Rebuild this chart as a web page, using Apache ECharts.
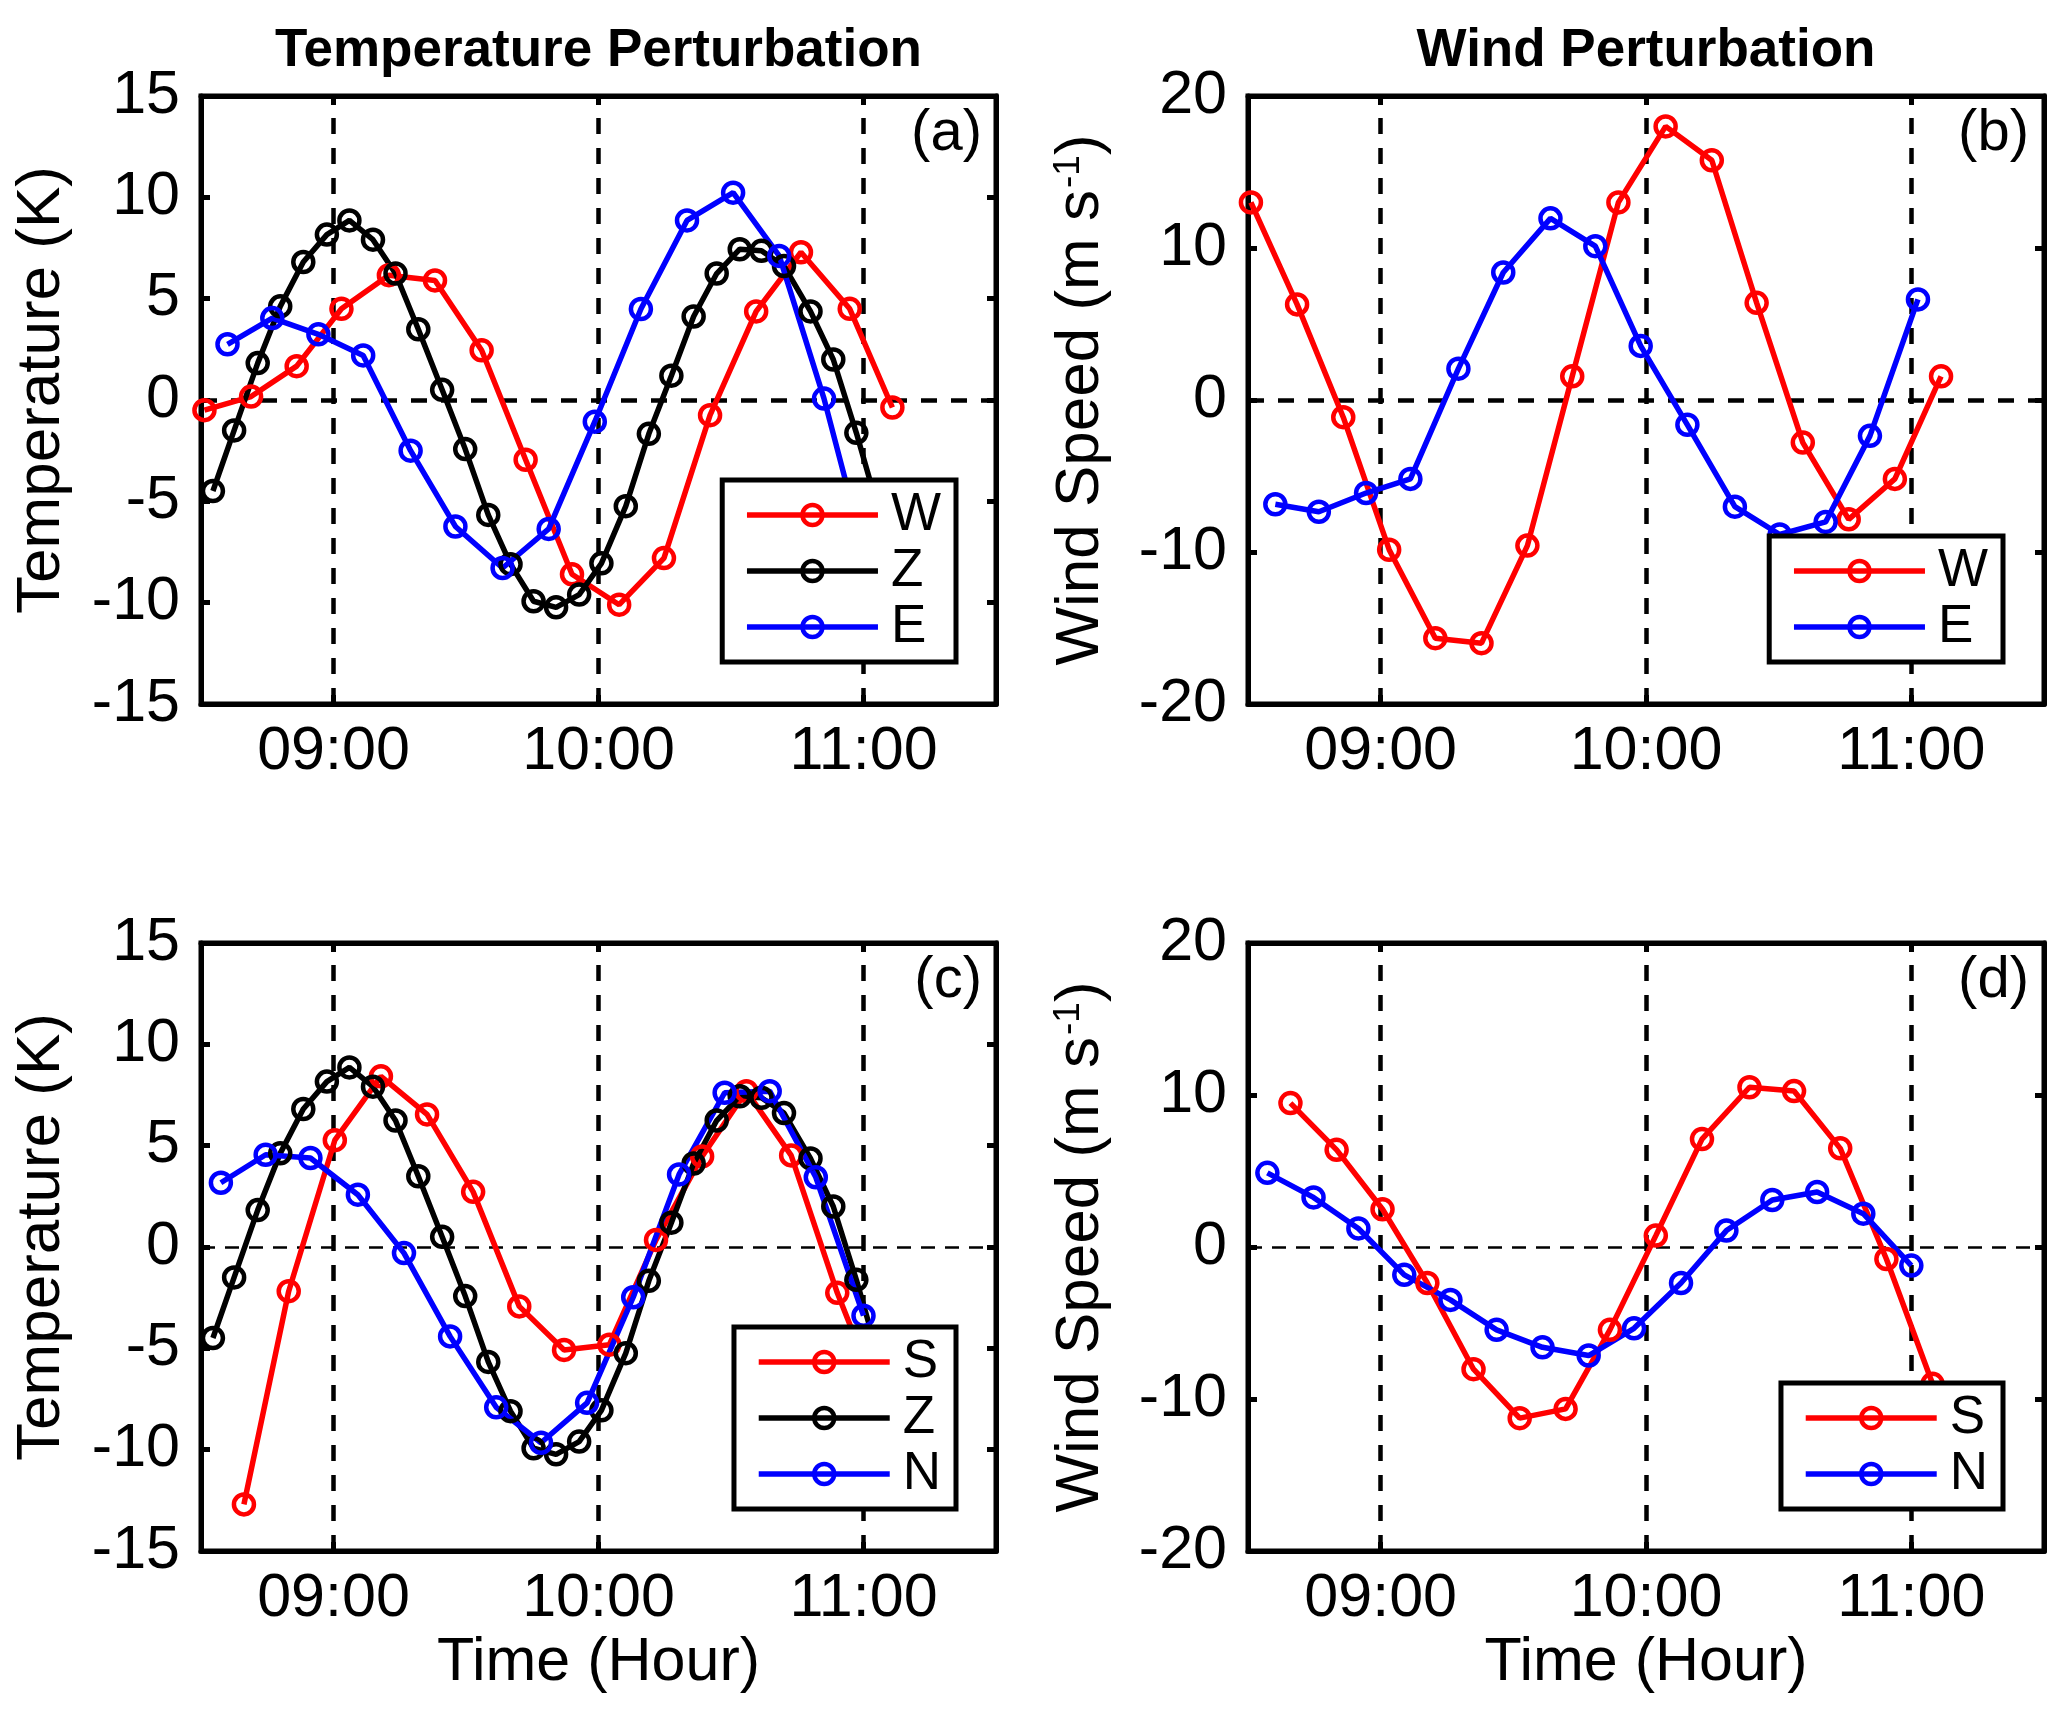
<!DOCTYPE html>
<html>
<head>
<meta charset="utf-8">
<script src="https://cdn.jsdelivr.net/npm/echarts@6/dist/echarts.min.js"></script>
<style>
html,body{margin:0;padding:0;background:#fff;}
#chart{width:2067px;height:1718px;}
</style>
</head>
<body>
<div id="chart"></div>
<script>
// ---------- tick labels ----------
const xTickValues = [9, 10, 11];
const xTickLabels = ['09:00', '10:00', '11:00'];

// ---------- panel (a) temperature: W, Z, E ----------
const aW_t = [8.513, 8.689, 8.861, 9.030, 9.209, 9.383, 9.559, 9.725, 9.900, 10.078, 10.247, 10.421, 10.595, 10.764, 10.948, 11.109];
const aW_v = [-0.5, 0.17, 1.67, 4.5, 6.16, 5.9, 2.45, -2.95, -8.6, -10.1, -7.8, -0.75, 4.37, 7.29, 4.5, -0.37];

const Z_t = [8.545, 8.625, 8.714, 8.799, 8.886, 8.975, 9.060, 9.149, 9.234, 9.320, 9.410, 9.497, 9.584, 9.668, 9.755, 9.840, 9.927, 10.011, 10.103, 10.190, 10.275, 10.359, 10.446, 10.533, 10.615, 10.700, 10.800, 10.886, 10.973, 11.060];
const Z_v = [-4.49, -1.5, 1.82, 4.62, 6.81, 8.16, 8.86, 7.91, 6.24, 3.49, 0.5, -2.42, -5.67, -8.1, -9.93, -10.23, -9.6, -8.06, -5.24, -1.67, 1.2, 4.12, 6.24, 7.44, 7.36, 6.61, 4.37, 2.0, -1.62, -5.6];

const aE_t = [8.600, 8.769, 8.943, 9.112, 9.291, 9.460, 9.638, 9.812, 9.986, 10.160, 10.334, 10.508, 10.682, 10.851, 11.025];
const aE_v = [2.75, 4.04, 3.24, 2.2, -2.5, -6.24, -8.29, -6.36, -1.07, 4.49, 8.86, 10.23, 7.11, 0.07, -8.6];

// ---------- panel (b) wind: W, E ----------
const bW_t = [8.511, 8.685, 8.859, 9.032, 9.206, 9.380, 9.553, 9.722, 9.896, 10.074, 10.248, 10.417, 10.591, 10.764, 10.938, 11.112];
const bW_v = [13.0, 6.29, -1.13, -9.85, -15.67, -16.0, -9.58, 1.56, 13.0, 18.0, 15.77, 6.39, -2.8, -7.85, -5.19, 1.56];

const bE_t = [8.603, 8.767, 8.945, 9.112, 9.293, 9.462, 9.640, 9.809, 9.980, 10.156, 10.335, 10.504, 10.677, 10.844, 11.025];
const bE_v = [-6.86, -7.35, -6.12, -5.19, 2.06, 8.39, 11.95, 10.12, 3.56, -1.63, -7.02, -8.85, -8.02, -2.36, 6.62];

// ---------- panel (c) temperature: S, Z, N ----------
const cS_t = [8.662, 8.831, 9.005, 9.179, 9.353, 9.527, 9.701, 9.870, 10.041, 10.217, 10.391, 10.558, 10.727, 10.901, 11.075];
const cS_v = [-12.7, -2.18, 5.27, 8.42, 6.54, 2.72, -2.93, -5.08, -4.82, 0.35, 4.47, 7.69, 4.52, -2.26, -8.0];

const cN_t = [8.575, 8.744, 8.913, 9.092, 9.266, 9.440, 9.614, 9.783, 9.957, 10.131, 10.304, 10.476, 10.646, 10.820, 11.000];
const cN_v = [3.17, 4.55, 4.39, 2.58, -0.3, -4.41, -7.91, -9.66, -7.69, -2.48, 3.58, 7.61, 7.69, 3.44, -3.39];

// ---------- panel (d) wind: S, N ----------
const dS_t = [8.660, 8.834, 9.007, 9.176, 9.350, 9.524, 9.697, 9.864, 10.037, 10.211, 10.390, 10.558, 10.732, 10.906, 11.080];
const dS_v = [9.47, 6.39, 2.48, -2.37, -8.04, -11.26, -10.65, -5.45, 0.75, 7.1, 10.51, 10.26, 6.49, -0.79, -9.0];

const dN_t = [8.573, 8.747, 8.916, 9.089, 9.263, 9.437, 9.610, 9.784, 9.955, 10.132, 10.303, 10.476, 10.645, 10.819, 11.000];
const dN_v = [4.88, 3.26, 1.22, -1.83, -3.48, -5.45, -6.6, -7.14, -5.35, -2.37, 1.08, 3.09, 3.62, 2.19, -1.22];

// ---------- styling / layout ----------
const FONT = '"Liberation Sans", Arial, Helvetica, sans-serif';
const RED = '#ff0000', BLUE = '#0000ff', BLACK = '#000000';

const grids = [
  {left: 201, top: 96, width: 795, height: 608},
  {left: 1248, top: 96, width: 796, height: 608},
  {left: 201, top: 943, width: 795, height: 608},
  {left: 1248, top: 943, width: 796, height: 608}
];
const yRanges = [[-15, 15, 5], [-20, 20, 10], [-15, 15, 5], [-20, 20, 10]];

function zip(t, v) { return t.map((x, i) => [x, v[i]]); }

const tickStyle = {color: BLACK, width: 5};
const lineAx = {show: true, onZero: false, lineStyle: {color: BLACK, width: 5}};
const TICKLEN = 9;

const xAxes = [], yAxes = [];
grids.forEach((g, i) => {
  const bottomRow = i >= 2;
  xAxes.push({
    type: 'value', gridIndex: i, position: 'bottom', min: 8.5, max: 11.5, interval: 0.5,
    axisLine: lineAx,
    axisTick: {show: true, inside: true, length: TICKLEN, customValues: xTickValues, lineStyle: tickStyle},
    axisLabel: {show: true, customValues: xTickValues, margin: 18, fontSize: 61, lineHeight: 61,
      color: BLACK, fontFamily: FONT,
      formatter: v => { const k = xTickValues.indexOf(Math.round(v)); return (k >= 0 && Math.abs(v - Math.round(v)) < 1e-6) ? xTickLabels[k] : ''; }},
    splitLine: {show: false},
    name: bottomRow ? 'Time (Hour)' : '', nameLocation: 'middle', nameGap: 82,
    nameTextStyle: {fontSize: 61, lineHeight: 61, color: BLACK, fontFamily: FONT}
  });
  xAxes.push({
    type: 'value', gridIndex: i, position: 'top', min: 8.5, max: 11.5, interval: 0.5,
    axisLine: lineAx,
    axisTick: {show: true, inside: true, length: TICKLEN, customValues: xTickValues, lineStyle: tickStyle},
    axisLabel: {show: false}, splitLine: {show: false}
  });
  const r = yRanges[i];
  const isTemp = (i % 2 === 0);
  yAxes.push({
    type: 'value', gridIndex: i, position: 'left', min: r[0], max: r[1], interval: r[2],
    axisLine: lineAx,
    axisTick: {show: true, inside: true, length: TICKLEN, lineStyle: tickStyle},
    axisLabel: {show: true, margin: 21, fontSize: 61, lineHeight: 61, color: BLACK, fontFamily: FONT},
    splitLine: {show: false},
    name: isTemp ? 'Temperature (K)' : '{n|Wind Speed (m s}{s|-1}{n|)}',
    nameLocation: 'middle', nameGap: isTemp ? 128 : 126,
    nameTextStyle: {fontSize: 62, lineHeight: 62, color: BLACK, fontFamily: FONT,
      padding: isTemp ? [0, 0, 0, 20] : [0, 0, 0, 0],
      rich: {
        n: {fontSize: 62, lineHeight: 62, verticalAlign: 'bottom', color: BLACK, fontFamily: FONT},
        s: {fontSize: 37, lineHeight: 37, verticalAlign: 'top', padding: [0, 0, 48, 2], color: BLACK, fontFamily: FONT}
      }}
  });
  yAxes.push({
    type: 'value', gridIndex: i, position: 'right', min: r[0], max: r[1], interval: r[2],
    axisLine: lineAx,
    axisTick: {show: true, inside: true, length: TICKLEN, lineStyle: tickStyle},
    axisLabel: {show: false}, splitLine: {show: false}
  });
});

function lineSeries(name, color, t, v, gi) {
  return {
    type: 'line', name: name, xAxisIndex: 2 * gi, yAxisIndex: 2 * gi,
    data: zip(t, v), symbol: 'circle', symbolSize: 20, showSymbol: true,
    lineStyle: {color: color, width: 5.5},
    itemStyle: {color: 'rgba(0,0,0,0)', borderColor: color, borderWidth: 4.5},
    emphasis: {disabled: true}, z: 2, animation: false
  };
}

function refSeries(gi) {
  const vs = {color: BLACK, width: 4.5, type: [16, 14]};
  const hs = gi < 2 ? {color: BLACK, width: 4.5, type: [16, 14]} : {color: BLACK, width: 2.5, type: [14, 10]};
  return {
    type: 'line', name: '_ref' + gi, xAxisIndex: 2 * gi, yAxisIndex: 2 * gi, data: [],
    silent: true, animation: false,
    markLine: {
      silent: true, symbol: ['none', 'none'], label: {show: false}, z: 1, animation: false,
      emphasis: {disabled: true},
      lineStyle: vs,
      data: [
        {xAxis: 9, lineStyle: vs}, {xAxis: 10, lineStyle: vs}, {xAxis: 11, lineStyle: vs},
        {yAxis: 0, lineStyle: hs}
      ]
    }
  };
}

const series = [
  refSeries(0), refSeries(1), refSeries(2), refSeries(3),
  lineSeries('W', RED, aW_t, aW_v, 0),
  lineSeries('Z', BLACK, Z_t, Z_v, 0),
  lineSeries('E', BLUE, aE_t, aE_v, 0),
  lineSeries('W', RED, bW_t, bW_v, 1),
  lineSeries('E', BLUE, bE_t, bE_v, 1),
  lineSeries('S', RED, cS_t, cS_v, 2),
  lineSeries('Z', BLACK, Z_t, Z_v, 2),
  lineSeries('N', BLUE, cN_t, cN_v, 2),
  lineSeries('S', RED, dS_t, dS_v, 3),
  lineSeries('N', BLUE, dN_t, dN_v, 3)
];

function legend(names, right, top) {
  return {
    show: true, orient: 'vertical', data: names, right: right, top: top,
    padding: [7, 15, 7, 22], itemGap: 0, itemWidth: 131, itemHeight: 25,
    backgroundColor: '#ffffff', borderColor: BLACK, borderWidth: 5, borderRadius: 0,
    selectedMode: false, z: 4,
    textStyle: {fontSize: 53, lineHeight: 56, color: BLACK, fontFamily: FONT, padding: [0, 0, 0, 8]},
    lineStyle: {width: 5.5},
    itemStyle: {borderWidth: 4.5}
  };
}

const option = {
  animation: false,
  backgroundColor: '#ffffff',
  grid: grids.map(g => Object.assign({show: true, borderColor: BLACK, borderWidth: 5, backgroundColor: 'transparent', containLabel: false, outerBoundsMode: 'none'}, g)),
  xAxis: xAxes,
  yAxis: yAxes,
  legend: [
    legend(['W', 'Z', 'E'], 1111, 480),
    legend(['W', 'E'], 64, 536),
    legend(['S', 'Z', 'N'], 1111, 1327),
    legend(['S', 'N'], 64, 1383)
  ],
  graphic: [
    {type: 'text', silent: true, style: {text: 'Temperature Perturbation', x: 598.5, y: 51, align: 'center', verticalAlign: 'middle', font: 'bold 53px ' + FONT, fill: BLACK}},
    {type: 'text', silent: true, style: {text: 'Wind Perturbation', x: 1646, y: 51, align: 'center', verticalAlign: 'middle', font: 'bold 53px ' + FONT, fill: BLACK}},
    {type: 'text', silent: true, style: {text: '(a)', x: 982, y: 134, align: 'right', verticalAlign: 'middle', font: '58px ' + FONT, fill: BLACK}},
    {type: 'text', silent: true, style: {text: '(b)', x: 2029, y: 134, align: 'right', verticalAlign: 'middle', font: '58px ' + FONT, fill: BLACK}},
    {type: 'text', silent: true, style: {text: '(c)', x: 982, y: 981, align: 'right', verticalAlign: 'middle', font: '58px ' + FONT, fill: BLACK}},
    {type: 'text', silent: true, style: {text: '(d)', x: 2029, y: 981, align: 'right', verticalAlign: 'middle', font: '58px ' + FONT, fill: BLACK}}
  ],
  series: series
};

const chart = echarts.init(document.getElementById('chart'), null, {renderer: 'canvas', width: 2067, height: 1718});
chart.setOption(option);
</script>
</body>
</html>
